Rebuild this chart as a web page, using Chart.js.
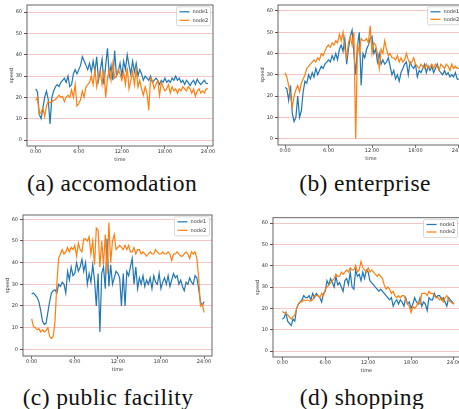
<!DOCTYPE html>
<html>
<head>
<meta charset="utf-8">
<script src="https://cdn.jsdelivr.net/npm/chart.js@4"></script>
<style>
  html, body { margin: 0; padding: 0; background: #fff; }
  body { width: 459px; height: 409px; position: relative; overflow: hidden; }
  canvas { position: absolute; }
  .caption {
    position: absolute;
    font-family: "Liberation Serif", "DejaVu Serif", serif;
    font-size: 23.5px;
    letter-spacing: 0.4px;
    color: #111;
    white-space: nowrap;
    transform: translate(-50%, -50%);
  }
</style>
</head>
<body>
<canvas id="chart-a"></canvas>
<canvas id="chart-b"></canvas>
<canvas id="chart-c"></canvas>
<canvas id="chart-d"></canvas>
<div class="caption" style="left:112px; top:183px">(a) accomodation</div>
<div class="caption" style="left:365px; top:183px">(b) enterprise</div>
<div class="caption" style="left:108px; top:397px">(c) public facility</div>
<div class="caption" style="left:362px; top:397px">(d) shopping</div>

<script>
(function () {
  "use strict";

  // samples every 15 minutes, 0:00 .. 24:00
  const STEP_HOURS = 0.25;
  const SERIES_LABELS = ["node1", "node2"];
  const X_TICKS = [0, 6, 12, 18, 24];
  const X_TICK_LABELS = ["0:00", "6:00", "12:00", "18:00", "24:00"];
  const Y_TICKS = [0, 10, 20, 30, 40, 50, 60];

  const ACCOMODATION_NODE1 = [
    24, 22.5, 12, 10, 15, 20, 23, 19, 7.5, 20, 23, 25, 26, 25, 27, 28,
    29, 27, 30, 25, 26, 31, 33, 31, 33, 35, 39, 37, 35, 33, 36, 32,
    37, 32, 39, 28, 33, 38, 26, 35, 43, 30, 35, 28, 42, 30, 32, 36,
    30, 37, 33, 40, 35, 31, 37, 32, 36, 30, 33, 31, 28, 30, 29, 28,
    30, 27, 28, 29, 28, 26, 28, 27, 29, 27, 28, 27, 29, 28, 30, 28,
    29, 27, 28, 26, 28, 27, 25.5, 27, 28, 26, 28.5, 27, 26, 27, 28, 26.5,
    26.5
  ];
  const ACCOMODATION_NODE2 = [
    18.5, 20, 12, 13, 15, 11, 16, 18, 17.5, 18, 18.5, 19, 20, 21, 20, 20.5,
    18, 20, 21, 20, 23.5, 20, 26, 16, 17, 19, 23, 20, 25, 26, 27, 30,
    26, 33, 25, 30, 32, 26, 33, 20, 29, 33, 28, 36, 29, 30, 33, 31,
    28, 32, 26, 34, 24, 28, 32, 26, 33, 25, 28, 24, 21, 25, 22, 14,
    29, 28, 24, 26, 28, 21, 27, 25, 23, 24, 26, 22, 25, 23, 24, 22,
    24, 23, 25, 24, 23, 25, 24, 22, 24, 20.5, 23, 24, 22, 23, 22, 24,
    24
  ];

  const ENTERPRISE_NODE1 = [
    24, 23.5, 18, 25, 12, 8, 10, 20, 10, 13, 22, 27, 26, 30, 28, 31,
    29, 33, 30, 32, 34, 33, 35, 36, 37, 36, 39, 37, 40, 37, 42, 44,
    41, 47, 35, 42, 48, 51, 40, 30, 44, 50, 25, 40, 38, 42, 44, 47,
    48, 40, 42, 36, 40, 35, 37, 35, 36, 38, 34, 30, 32, 28, 30, 27,
    31, 33, 35, 36, 30, 36, 34, 33, 35, 29, 32, 31, 33, 35, 31, 34,
    32, 34, 31, 33, 35, 32, 31, 30, 32, 30, 31, 29, 30, 29, 31, 28,
    28
  ];
  const ENTERPRISE_NODE2 = [
    31, 29, 25, 20, 15, 20, 23, 25, 22, 26, 28, 30, 33, 34, 35, 36,
    37, 36, 38, 37, 40, 39, 41, 43, 44, 43, 45, 44, 46, 45, 49, 46,
    50, 42, 38, 45, 48, 44, 50, 0, 45, 40, 47, 46, 46, 47, 45, 53,
    40, 45, 44, 40, 33, 42, 40, 46, 42, 39, 40, 38, 38, 37, 39, 36,
    38, 36, 37, 40, 37, 35, 36, 38, 35, 34, 33, 35, 34, 33, 35, 33,
    34, 35, 33, 35, 34, 32, 35, 34, 33, 35, 34, 32, 35, 33, 34, 33,
    33
  ];

  const PUBLIC_FACILITY_NODE1 = [
    25.5, 26, 25, 24, 22, 18, 13, 11.5, 12, 17, 22, 26, 27, 27.5, 26, 30,
    29, 31, 30, 26, 36, 32, 38, 34, 35, 40, 36, 38, 41.5, 36, 40, 30,
    35, 31, 39, 32, 20, 35, 8, 35, 38, 28, 51, 29, 39, 30, 33, 36,
    35, 33, 20, 35, 20, 36, 34, 38, 42, 30, 38, 28, 33, 30, 34, 29,
    32, 30, 33, 28, 34, 31, 30, 35, 28, 31, 33, 30, 34, 29, 32, 35,
    33, 34, 30, 32, 29, 27, 31, 30, 33, 31, 30, 34, 33, 28, 22, 20,
    22
  ];
  const PUBLIC_FACILITY_NODE2 = [
    14, 10.5, 10, 9, 9.5, 8, 9, 8, 8.5, 10, 6, 5, 6, 13, 30, 42,
    44, 46, 44, 45, 47, 45, 47, 46, 48, 43, 49, 46, 45, 51, 51, 50,
    52, 44, 50, 39, 56, 55, 38, 50, 39, 53, 35, 58.5, 40, 50, 53, 46,
    47, 48, 47, 46, 48, 46, 48, 45, 45, 47, 44, 46, 46, 44, 45, 44,
    43, 44, 45, 44, 44, 46, 45, 44, 44, 45, 44, 44, 45, 44, 41, 44,
    44, 45, 44, 43, 43, 44, 45, 44, 42, 45, 44, 45, 42, 33, 20, 21,
    17
  ];

  const SHOPPING_NODE1 = [
    15, 15.5, 18, 14, 13, 12, 15, 14, 20, 22, 23, 24, 26, 25, 25, 26,
    24, 27, 25, 27, 26, 25, 23, 27, 28, 33, 31, 34, 32, 30, 35, 31,
    32, 30, 28, 33, 34, 31, 37, 30, 29, 38, 35, 36, 33, 37, 34, 38,
    37, 33, 32, 31, 30, 29, 28, 29, 28, 27, 26, 25, 24, 25, 21, 23,
    24, 22, 24, 23, 21, 25, 22, 23, 20, 22, 25, 23, 22, 25, 21, 23,
    22, 19, 25, 24, 24, 27, 25, 26, 26, 24, 25, 23, 21, 25, 24, 23,
    22
  ];
  const SHOPPING_NODE2 = [
    18.5, 18, 17.5, 17, 16, 15, 16, 17, 20, 22, 23, 23, 24, 23.5, 24, 23.5,
    23.5, 24, 26, 26, 26, 25, 27, 26, 29, 30, 31, 32, 33, 34, 36, 35,
    35, 37, 36, 37, 38, 37, 39, 38, 38, 40, 37, 38, 42, 39, 38, 37,
    39, 37, 38, 37, 36, 35, 36, 35, 34, 31, 29, 30, 29, 27, 28, 26,
    25, 26, 25, 26, 26, 24, 22, 21, 18, 21, 20, 21, 23, 22, 27, 27,
    27, 26, 28, 27, 27, 26, 25, 25, 24, 25, 23, 25, 26, 24, 23, 22.5,
    22
  ];

  const COLORS = ["#1f77b4", "#ff7f0e"];

  // canvas box and plot box in page pixels
  const PANELS = [
    { id: "chart-a", series: [ACCOMODATION_NODE1, ACCOMODATION_NODE2],
      canvas: { x: 0, y: 0, w: 226, h: 166 }, plot: { l: 27, t: 5, r: 213, b: 146 },
      xRange: [-1.21, 24.7], yRange: [-2.8, 63.3], legend: { w: 34, h: 19 } },
    { id: "chart-b", series: [ENTERPRISE_NODE1, ENTERPRISE_NODE2],
      canvas: { x: 240, y: 0, w: 230, h: 166 }, plot: { l: 278, t: 5, r: 464, b: 145 },
      xRange: [-0.97, 24.69], yRange: [-3, 62.8], legend: { w: 34, h: 18 } },
    { id: "chart-c", series: [PUBLIC_FACILITY_NODE1, PUBLIC_FACILITY_NODE2],
      canvas: { x: 0, y: 205, w: 226, h: 170 }, plot: { l: 23, t: 215, r: 212, b: 356 },
      xRange: [-1.21, 25.11], yRange: [-3.1, 62], legend: { w: 35, h: 19 } },
    { id: "chart-d", series: [SHOPPING_NODE1, SHOPPING_NODE2],
      canvas: { x: 240, y: 205, w: 230, h: 170 }, plot: { l: 273, t: 217.7, r: 460, b: 357 },
      xRange: [-1.3, 24.84], yRange: [-2.8, 62.5], legend: { w: 34, h: 18 } },
  ];

  const Y_AXIS_WIDTH = 18.3;
  const X_AXIS_HEIGHT = 16.5;
  const AXIS_FONT = { family: "DejaVu Sans", size: 5, lineHeight: 1.2 };

  const framePlugin = {
    id: "frame",
    afterDatasetsDraw(chart) {
      const { ctx, chartArea: a } = chart;
      ctx.save();
      ctx.strokeStyle = "#555";
      ctx.lineWidth = 0.9;
      ctx.strokeRect(a.left, a.top, a.right - a.left, a.bottom - a.top);
      ctx.restore();
    },
  };

  const legendPlugin = {
    id: "boxLegend",
    afterDraw(chart, args, opts) {
      const { ctx, chartArea: a } = chart;
      const w = opts.w, h = opts.h;
      const x = a.right - 2.5 - w;
      const y = a.top + 1.8;
      ctx.save();
      ctx.fillStyle = "rgba(255,255,255,0.85)";
      ctx.strokeStyle = "#d0d0d0";
      ctx.lineWidth = 0.8;
      ctx.beginPath();
      ctx.roundRect(x, y, w, h, 1.5);
      ctx.fill();
      ctx.stroke();
      ctx.font = "5px 'DejaVu Sans'";
      ctx.textBaseline = "middle";
      chart.data.datasets.forEach((ds, i) => {
        const rowY = y + 5 + i * (h - 10.5);
        ctx.strokeStyle = ds.borderColor;
        ctx.lineWidth = 1.2;
        ctx.beginPath();
        ctx.moveTo(x + 3, rowY);
        ctx.lineTo(x + 13, rowY);
        ctx.stroke();
        ctx.fillStyle = "#333";
        ctx.fillText(ds.label, x + 16, rowY);
      });
      ctx.restore();
    },
  };

  function toPoints(values) {
    return values.map((v, i) => ({ x: i * STEP_HOURS, y: v }));
  }

  function createPanel(panel) {
    const canvas = document.getElementById(panel.id);
    const c = panel.canvas, p = panel.plot;
    canvas.width = c.w;
    canvas.height = c.h;
    canvas.style.left = c.x + "px";
    canvas.style.top = c.y + "px";
    canvas.style.width = c.w + "px";
    canvas.style.height = c.h + "px";

    const padding = {
      left: p.l - c.x - Y_AXIS_WIDTH,
      top: p.t - c.y,
      right: c.x + c.w - p.r,
      bottom: c.y + c.h - (p.b + X_AXIS_HEIGHT),
    };

    return new Chart(canvas.getContext("2d"), {
      type: "line",
      data: {
        datasets: panel.series.map((values, i) => ({
          label: SERIES_LABELS[i],
          data: toPoints(values),
          borderColor: COLORS[i],
          borderWidth: 1.2,
          pointRadius: 0,
          tension: 0,
          fill: false,
          order: i === 0 ? 1 : 0,
        })),
      },
      options: {
        responsive: false,
        animation: false,
        events: [],
        layout: { padding },
        plugins: {
          legend: { display: false },
          tooltip: { enabled: false },
          boxLegend: panel.legend,
        },
        scales: {
          x: {
            type: "linear",
            min: panel.xRange[0],
            max: panel.xRange[1],
            afterBuildTicks: (scale) => {
              scale.ticks = X_TICKS.map((v) => ({ value: v }));
            },
            afterFit: (scale) => {
              scale.height = X_AXIS_HEIGHT;
            },
            ticks: {
              autoSkip: false,
              maxRotation: 0,
              padding: 0,
              color: "#333",
              font: AXIS_FONT,
              callback: (value, index) => X_TICK_LABELS[index],
            },
            grid: {
              drawOnChartArea: false,
              tickLength: 3,
              tickColor: "#555",
              lineWidth: 0.8,
            },
            border: { display: false },
            title: {
              display: true,
              text: "time",
              color: "#333",
              font: AXIS_FONT,
              padding: 0,
            },
          },
          y: {
            min: panel.yRange[0],
            max: panel.yRange[1],
            afterBuildTicks: (scale) => {
              scale.ticks = Y_TICKS.map((v) => ({ value: v }));
            },
            afterFit: (scale) => {
              scale.width = Y_AXIS_WIDTH;
            },
            ticks: {
              padding: 2,
              color: "#333",
              font: AXIS_FONT,
            },
            grid: {
              color: "#f6c6c6",
              lineWidth: 1,
              tickLength: 3,
              tickColor: "#555",
            },
            border: { display: false },
            title: {
              display: true,
              text: "speed",
              color: "#333",
              font: AXIS_FONT,
              padding: 0,
            },
          },
        },
      },
      plugins: [framePlugin, legendPlugin],
    });
  }

  PANELS.forEach(createPanel);
})();
</script>
</body>
</html>
